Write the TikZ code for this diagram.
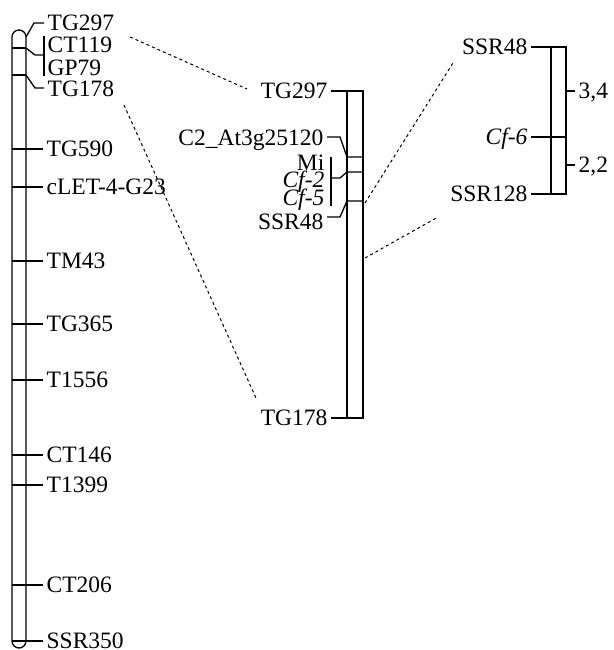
\documentclass[tikz,border=0pt]{standalone}
\usepackage{fontspec}
\setmainfont{Liberation Serif}
\begin{document}
\begin{tikzpicture}[x=1pt,y=-1pt,line width=1.3pt,line join=miter,
  lab/.style={font=\fontsize{23.5}{27}\selectfont,inner ysep=0pt,inner xsep=3pt,text height=15pt,text depth=0pt},
  labl/.style={lab,anchor=west},
  labr/.style={lab,anchor=east},
  link/.style={line width=1pt,dash pattern=on 3pt off 3pt}]
\useasboundingbox (0,0) rectangle (613,650);
% ---------- left chromosome ----------
\draw (12,37) -- (12,641) arc[start angle=180,end angle=360,radius=7pt] -- (26,37) arc[start angle=0,end angle=180,radius=7pt] -- cycle;
\draw (12,48) -- (26,48);
\draw (12,75) -- (26,75);
\node[labl] (lTG297) at (44,23) {TG297};
\node[labl] (lCT119) at (44,45) {CT119};
\node[labl] (lGP79) at (44,68) {GP79};
\node[labl] (lTG178) at (44,89) {TG178};
\coordinate (k297) at (26,37);
\coordinate (k119) at (26,48);
\coordinate (k178) at (26,75);
\draw (k297) -- (34,23) -- (lTG297.west);
\draw (k119) -- (35,55) -- (44,55);
\draw (44,36) -- (44,76);
\draw (k178) -- (35,88) -- (44,88);
\foreach \n/\t/\y in {a/TG590/149,b/cLET-4-G23/187,c/TM43/261,d/TG365/324,e/T1556/380,f/CT146/455,g/T1399/485,h/CT206/585,i/SSR350/641}{
  \node[labl] (l\n) at (43,\y) {\t};
  \draw (12,\y) -- (l\n.west);
}
% ---------- middle chromosome ----------
\draw (347,91) rectangle (363,418);
\node[labr] (mTG297) at (331,91) {TG297};
\node[labr] (mTG178) at (331,418) {TG178};
\draw (mTG297.east) -- (363,91);
\draw (mTG178.east) -- (363,418);
\node[labr] (mC2) at (327,138) {C2\_At3g25120};
\node[labr] (mMi) at (328,163) {Mi};
\node[labr] (mCf2) at (328,180) {\itshape Cf-2};
\node[labr] (mCf5) at (328,198) {\itshape Cf-5};
\node[labr] (mSSR48) at (327,222) {SSR48};
\draw ([yshift=1pt]mC2.east) -- (340,137) -- (347,157) -- (363,157);
\draw (331,157) -- (331,206);
\draw (331,178) -- (340,178) -- (347,172) -- (363,172);
\draw ([yshift=5pt]mSSR48.east) -- (340,217) -- (347,201) -- (363,201);
% ---------- right chromosome ----------
\draw (551,47) rectangle (566,194);
\node[labr] (rSSR48) at (531,47) {SSR48};
\node[labr] (rCf6) at (531,137) {\itshape Cf-6};
\node[labr] (rSSR128) at (531,194) {SSR128};
\draw (rSSR48.east) -- (566,47);
\draw (rCf6.east) -- (566,137);
\draw (rSSR128.east) -- (566,194);
\node[labl] (d34) at (575,91) {3,4};
\node[labl] (d22) at (575,165) {2,2};
\draw (566,91) -- (d34.west);
\draw (566,165) -- (d22.west);
% ---------- dashed links ----------
\coordinate (p1) at (130,37);
\coordinate (q1) at (247,89);
\coordinate (p2) at (124,105);
\coordinate (q2) at (256,398);
\coordinate (p3) at (365,203);
\coordinate (q3) at (453,63);
\coordinate (p4) at (365,258);
\coordinate (q4) at (438,217);
\draw[link] (p1) -- (q1);
\draw[link] (p2) -- (q2);
\draw[link] (p3) -- (q3);
\draw[link] (p4) -- (q4);
\end{tikzpicture}
\end{document}
